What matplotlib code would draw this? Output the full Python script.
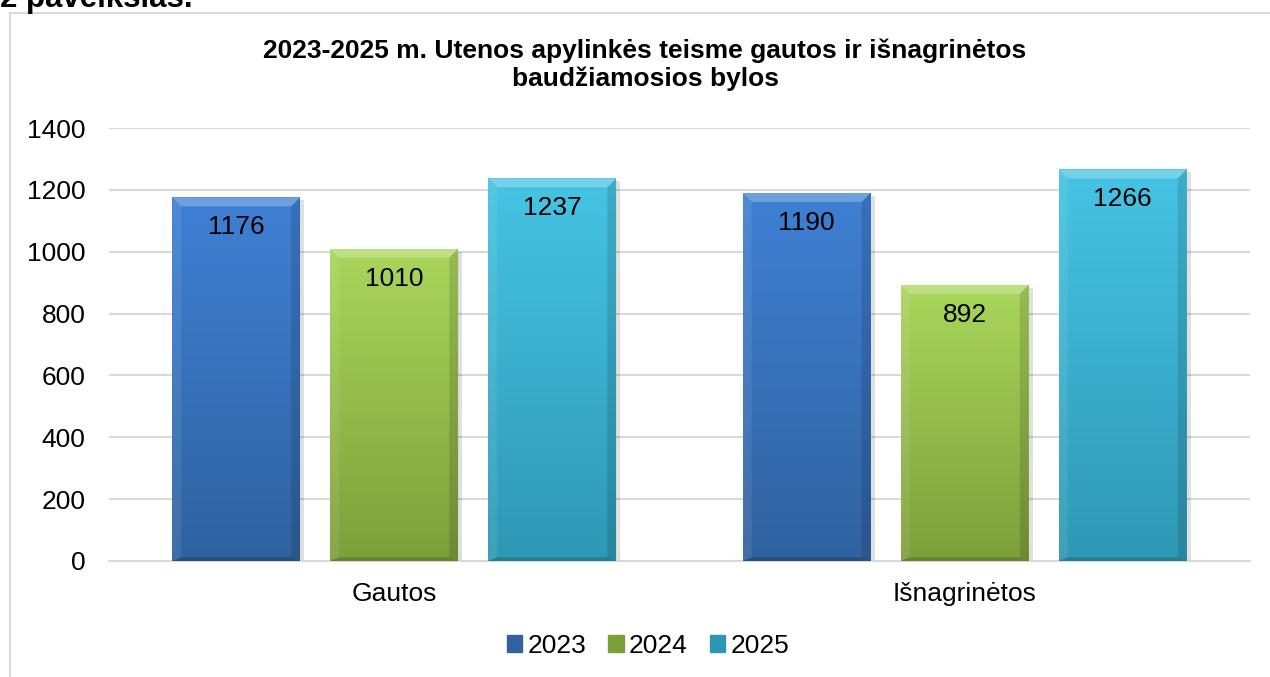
#!/usr/bin/env python3
import numpy as np
import matplotlib
matplotlib.use("Agg")
import matplotlib.pyplot as plt
from matplotlib.colors import LinearSegmentedColormap
from matplotlib.patches import Rectangle, Polygon, Patch
from matplotlib.lines import Line2D

plt.rcParams["font.family"] = ["Liberation Sans", "DejaVu Sans"]

categories = ["Gautos", "Išnagrinėtos"]
years = ["2023", "2024", "2025"]
values = {
    "2023": [1176, 1190],
    "2024": [1010, 892],
    "2025": [1237, 1266],
}
y_ticks = [0, 200, 400, 600, 800, 1000, 1200, 1400]

# (top, bottom) shades of each series
colors = {
    "2023": ("#3f80d4", "#30629f"),
    "2024": ("#aad65c", "#7d9f3a"),
    "2025": ("#46c4e4", "#2e98b4"),
}

W, H = 1270, 677
FS = 19
fig = plt.figure(figsize=(W / 100, H / 100), dpi=100)
ax = fig.add_axes([109 / W, 1 - 561 / H, (1250 - 109) / W, (561 - 128) / H])

x = np.arange(len(categories))
bar_w = 128 / 570.5
step = 158 / 570.5
px_x = 1 / 570.5          # one pixel in x data units
px_y = 1400 / 433         # one pixel in y data units
bev_x = 9 * px_x
bev_y = 9 * px_y

grad = np.linspace(0, 1, 256).reshape(-1, 1)

for i, yr in enumerate(years):
    top_c, bot_c = colors[yr]
    cmap = LinearSegmentedColormap.from_list(yr, [bot_c, top_c])
    for xi, v in zip(x, values[yr]):
        x0 = xi + (i - 1) * step - bar_w / 2
        x1 = x0 + bar_w
        # drop shadow
        ax.add_patch(Rectangle((x0 + 2 * px_x, -3 * px_y), bar_w + 2 * px_x, v,
                               facecolor="#000000", alpha=0.12, lw=0, zorder=2))
        rect = Rectangle((x0, 0), bar_w, v, facecolor="none", lw=0, zorder=3)
        ax.add_patch(rect)
        im = ax.imshow(grad, extent=[x0, x1, 0, v], origin="lower", cmap=cmap,
                       aspect="auto", zorder=3, interpolation="bicubic")
        im.set_clip_path(rect)
        # bevel faces
        ax.add_patch(Polygon([(x0, v), (x1, v), (x1 - bev_x, v - bev_y), (x0 + bev_x, v - bev_y)],
                             closed=True, facecolor="white", alpha=0.25, lw=0, zorder=4))
        ax.add_patch(Polygon([(x0, 0), (x0, v), (x0 + bev_x, v - bev_y), (x0 + bev_x, bev_y * 0.4)],
                             closed=True, facecolor="white", alpha=0.08, lw=0, zorder=4))
        ax.add_patch(Polygon([(x1, 0), (x1, v), (x1 - bev_x, v - bev_y), (x1 - bev_x, bev_y * 0.4)],
                             closed=True, facecolor="black", alpha=0.12, lw=0, zorder=4))
        ax.add_patch(Polygon([(x0, 0), (x1, 0), (x1 - bev_x, bev_y * 0.4), (x0 + bev_x, bev_y * 0.4)],
                             closed=True, facecolor="black", alpha=0.18, lw=0, zorder=4))
        ax.annotate(f"{v}", (x0 + bar_w / 2, v), xytext=(0, -30), textcoords="offset pixels",
                    ha="center", va="center", fontsize=FS, color="black", zorder=6)

ax.set_xlim(-0.5, 1.5)
ax.set_ylim(0, 1400)
ax.set_yticks(y_ticks)
ax.set_xticks(x)
ax.set_xticklabels(categories)
ax.tick_params(axis="both", length=0, labelsize=FS)
ax.tick_params(axis="y", pad=17)
ax.tick_params(axis="x", pad=15)
ax.yaxis.grid(True, color="#d9d9d9", lw=1.5, zorder=0)
ax.set_axisbelow(True)
for s in ["top", "right", "left"]:
    ax.spines[s].set_visible(False)
ax.spines["bottom"].set_color("#d9d9d9")
ax.spines["bottom"].set_linewidth(1.5)

# title
fig.text(645 / W, 1 - 58 / H, "2023-2025 m. Utenos apylinkės teisme gautos ir išnagrinėtos",
         ha="center", va="baseline", fontsize=19, fontweight="bold")
fig.text(645 / W, 1 - 86 / H, "baudžiamosios bylos",
         ha="center", va="baseline", fontsize=19, fontweight="bold")

# legend
handles = [Patch(facecolor=colors[yr][1], edgecolor=colors[yr][1]) for yr in years]
fig.legend(handles, years, loc="center", bbox_to_anchor=(648 / W, 1 - 646 / H), ncol=3,
           frameon=False, fontsize=FS, handlelength=0.58, handleheight=0.58,
           handletextpad=0.2, columnspacing=0.85, borderaxespad=0)

# chart frame and page caption
fig.add_artist(Line2D([10 / W, 10 / W], [0, 1 - 13 / H], color="#d9d9d9", lw=1.5))
fig.add_artist(Line2D([10 / W, 1], [1 - 13 / H, 1 - 13 / H], color="#d9d9d9", lw=1.5))
fig.text(0, 1 - 7 / H, "2 paveikslas.", ha="left", va="baseline", fontsize=22.5, fontweight="bold")

fig.savefig("out.png", dpi=100)
